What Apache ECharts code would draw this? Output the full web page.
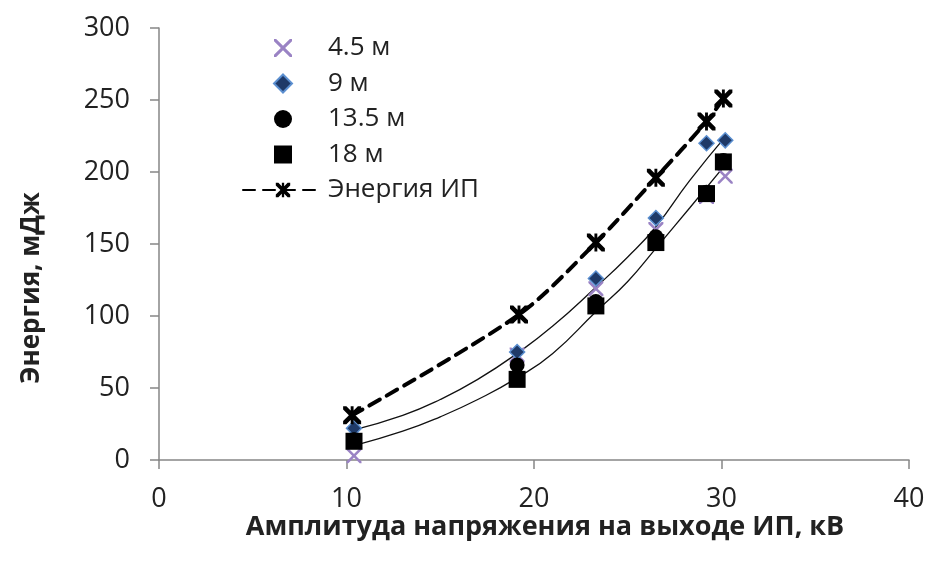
<!DOCTYPE html>
<html>
<head>
<meta charset="utf-8">
<script src="https://cdn.jsdelivr.net/npm/echarts@6/dist/echarts.min.js"></script>
<style>html,body{margin:0;padding:0;background:#fff;}#c{width:928px;height:562px;}</style>
</head>
<body>
<div id="c"></div>
<script>
// Categories / x values (kV)
var xVals = [10.4, 19.1, 23.3, 26.5, 29.2, 30.1];
var xVals45 = [10.4, 19.1, 23.3, 26.5, 29.2, 30.2];
var xVals9 = [10.4, 19.1, 23.3, 26.5, 29.2, 30.2];
var xValsE = [10.3, 19.2, 23.3, 26.5, 29.2, 30.1];
// Series values (mJ)
var v45 = [3, 73, 119, 160, 183, 197];
var v9 = [22, 75, 126, 168, 220, 222];
var v135 = [14, 66, 110, 155, 186, 208];
var v18 = [13, 56, 107, 151, 185, 207];
var vE = [31, 101, 151, 196, 235, 251];
// Trend lines
var trendUpX = [10.4, 13, 15, 17, 19.1, 21, 23.3, 25, 26.5, 28.3, 30.3];
var trendUpY = [21, 31, 42, 56, 74, 93, 120, 141, 162, 194, 226];
var trendLoX = [10.4, 13, 15, 17, 19.1, 21, 23.3, 25, 26.5, 28.3, 30.2];
var trendLoY = [10, 20, 30, 42, 57, 74, 103, 124, 147, 175, 205];
// Tick labels
var xTicks = [0, 10, 20, 30, 40];
var yTicks = [0, 50, 100, 150, 200, 250, 300];
var names = ['4.5 м', '9 м', '13.5 м', '18 м', 'Энергия ИП'];

function zip(a, b) { return a.map(function (x, i) { return [x, b[i]]; }); }

var FONT = 'Open Sans';
var crossPath = 'path://M0,0 L1.2,0 L5,3.8 L8.8,0 L10,0 L10,1.2 L6.2,5 L10,8.8 L10,10 L8.8,10 L5,6.2 L1.2,10 L0,10 L0,8.8 L3.8,5 L0,1.2 Z';
var starPath = 'path://M0,0 L1.8,0 L5,3.2 L8.2,0 L10,0 L10,1.8 L6.8,5 L10,8.2 L10,10 L8.2,10 L5,6.8 L1.8,10 L0,10 L0,8.2 L3.2,5 L0,1.8 Z M4.2,0 L5.8,0 L5.8,10 L4.2,10 Z';
var diamondPath = 'path://M5,0 L10,5 L5,10 L0,5 Z';
var squarePath = 'path://M0,0 L10,0 L10,10 L0,10 Z';

var chart = echarts.init(document.getElementById('c'), null, {renderer: 'canvas'});
chart.setOption({
  animation: false,
  backgroundColor: '#fff',
  grid: {left: 159, right: 19, top: 28, bottom: 102, containLabel: false},
  xAxis: {
    type: 'value', min: 0, max: 40, interval: 10,
    axisLine: {lineStyle: {color: '#868686', width: 1.5}},
    axisTick: {show: true, length: 9, lineStyle: {color: '#868686', width: 1.5}},
    splitLine: {show: false},
    axisLabel: {color: '#222', fontFamily: FONT, fontSize: 27, margin: 26,
      formatter: function (v) { return xTicks.indexOf(v) >= 0 ? String(v) : ''; }}
  },
  yAxis: {
    type: 'value', min: 0, max: 300, interval: 50,
    axisLine: {show: true, lineStyle: {color: '#868686', width: 1.5}},
    axisTick: {show: true, length: 9, lineStyle: {color: '#868686', width: 1.5}},
    splitLine: {show: false},
    axisLabel: {color: '#222', fontFamily: FONT, fontSize: 27, margin: 29,
      formatter: function (v) { return yTicks.indexOf(v) >= 0 ? String(v) : ''; }}
  },
  legend: {
    data: names, orient: 'vertical', left: 237, top: 30,
    itemWidth: 80, itemHeight: 18, itemGap: 9.5,
    textStyle: {fontFamily: FONT, fontSize: 26, color: '#222', lineHeight: 20}
  },
  graphic: [
    {type: 'text', x: 32, y: 288, rotation: Math.PI / 2,
      style: {text: 'Энергия, мДж', font: 'bold 26px "Open Sans"', fill: '#222', align: 'center', verticalAlign: 'middle'}},
    {type: 'text', x: 545, y: 527,
      style: {text: 'Амплитуда напряжения на выходе ИП, кВ', font: 'bold 27px "Open Sans"', fill: '#222', align: 'center', verticalAlign: 'middle'}}
  ],
  series: [
    {name: 'trendUp', type: 'line', data: zip(trendUpX, trendUpY), smooth: true, showSymbol: false,
      lineStyle: {color: '#111', width: 1.3}, z: 1, silent: true},
    {name: 'trendLo', type: 'line', data: zip(trendLoX, trendLoY), smooth: true, showSymbol: false,
      lineStyle: {color: '#111', width: 1.3}, z: 1, silent: true},
    {name: names[0], type: 'scatter', data: zip(xVals45, v45), symbol: crossPath, symbolSize: 15, symbolKeepAspect: true,
      itemStyle: {color: '#9a83c4', opacity: 1}, z: 2},
    {name: names[1], type: 'scatter', data: zip(xVals9, v9), symbol: diamondPath, symbolSize: 15, symbolKeepAspect: true,
      itemStyle: {color: '#1f3a68', borderColor: '#5b8fd0', borderWidth: 1.5, opacity: 1}, z: 3},
    {name: names[2], type: 'scatter', data: zip(xVals, v135), symbol: 'circle', symbolSize: 15, symbolKeepAspect: true,
      itemStyle: {color: '#000', opacity: 1}, z: 4},
    {name: names[3], type: 'scatter', data: zip(xVals, v18), symbol: squarePath, symbolSize: 17, symbolKeepAspect: true,
      itemStyle: {color: '#000', opacity: 1}, z: 5},
    {name: names[4], type: 'line', data: zip(xValsE, vE), smooth: 0.3, symbol: starPath, symbolSize: 18, symbolKeepAspect: true,
      showAllSymbol: true, itemStyle: {color: '#000', opacity: 1},
      lineStyle: {color: '#000', width: 4, type: [12, 8], cap: 'round'}, z: 6}
  ]
});
</script>
</body>
</html>
